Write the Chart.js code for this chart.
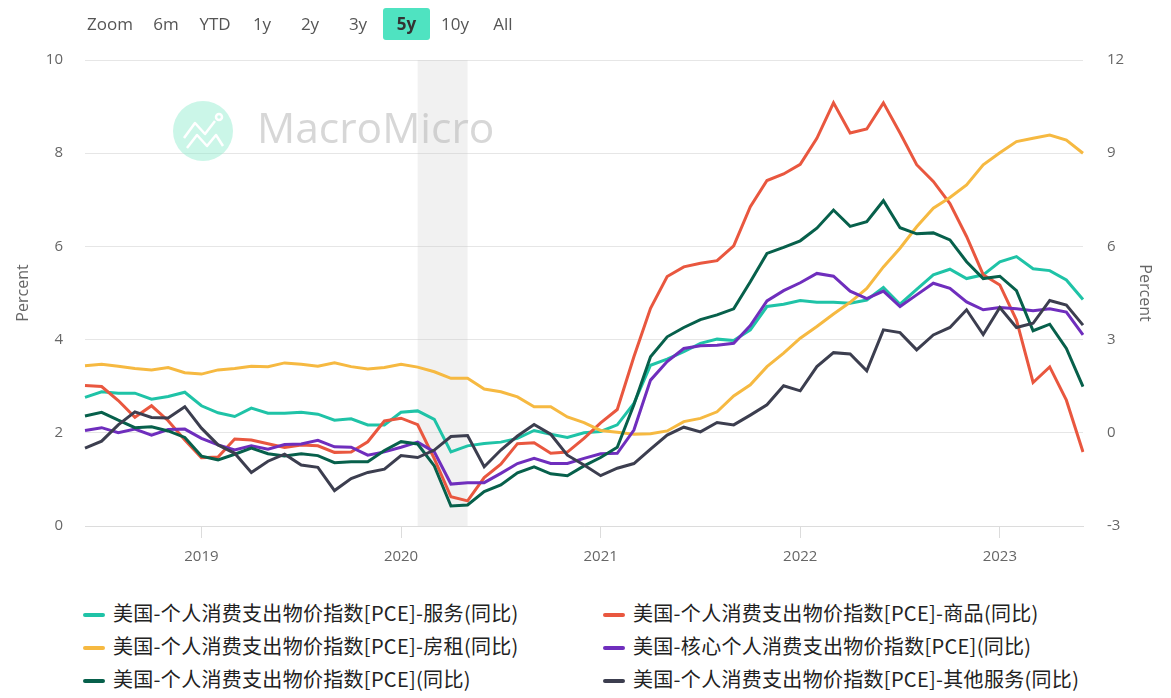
<!DOCTYPE html>
<html lang="zh">
<head>
<meta charset="UTF-8">
<title>美国PCE物价指数(同比)</title>
<script src="https://cdn.jsdelivr.net/npm/chart.js"></script>
<style>
    body {
        margin: 0;
        padding: 0;
        background: #fff;
        font-family: 'Open Sans', sans-serif;
    }
    .wrap {
        position: relative;
        width: 1171px;
        height: 698px;
        overflow: hidden;
    }
    .chart-box {
        position: absolute;
        left: 0;
        top: 0;
        width: 1171px;
        height: 590px;
    }
    .range-btn {
        position: absolute;
        top: 8px;
        height: 32px;
        line-height: 32px;
        font-size: 17px;
        color: #555;
        text-align: center;
    }
    .range-btn.active {
        background: #4fe3c1;
        border-radius: 3px;
        font-weight: bold;
        color: #333;
    }
    .legend {
        position: absolute;
        left: 0;
        top: 596px;
        width: 1171px;
    }
    .legend-item {
        position: absolute;
        height: 33px;
        line-height: 33px;
        font-family: 'Noto Sans CJK SC', sans-serif;
        font-size: 20px;
        letter-spacing: 0.3px;
        color: #222;
        white-space: nowrap;
    }
    .legend-item .sym {
        display: inline-block;
        width: 22px;
        height: 4px;
        border-radius: 2px;
        vertical-align: middle;
        margin-right: 8px;
        position: relative;
        top: -1px;
    }
</style>
</head>
<body>
<div class="wrap">
    <div class="chart-box"><canvas id="pce-chart"></canvas></div>
    <div class="range-btn" style="left:80px;width:60px;">Zoom</div>
    <div class="range-btn" style="left:148px;width:36px;">6m</div>
    <div class="range-btn" style="left:194px;width:42px;">YTD</div>
    <div class="range-btn" style="left:245px;width:34px;">1y</div>
    <div class="range-btn" style="left:293px;width:34px;">2y</div>
    <div class="range-btn" style="left:341px;width:34px;">3y</div>
    <div class="range-btn active" style="left:383px;width:47px;">5y</div>
    <div class="range-btn" style="left:436px;width:38px;">10y</div>
    <div class="range-btn" style="left:485px;width:36px;">All</div>
    <div class="legend" id="legend"></div>
</div>

<script>
    // месяцы: 2018-06 ... 2023-06
    const months = [
        '2018-06','2018-07','2018-08','2018-09','2018-10','2018-11','2018-12',
        '2019-01','2019-02','2019-03','2019-04','2019-05','2019-06','2019-07','2019-08','2019-09','2019-10','2019-11','2019-12',
        '2020-01','2020-02','2020-03','2020-04','2020-05','2020-06','2020-07','2020-08','2020-09','2020-10','2020-11','2020-12',
        '2021-01','2021-02','2021-03','2021-04','2021-05','2021-06','2021-07','2021-08','2021-09','2021-10','2021-11','2021-12',
        '2022-01','2022-02','2022-03','2022-04','2022-05','2022-06','2022-07','2022-08','2022-09','2022-10','2022-11','2022-12',
        '2023-01','2023-02','2023-03','2023-04','2023-05','2023-06'
    ];

    // левая ось
    const services = [2.76,2.88,2.85,2.85,2.72,2.78,2.87,2.58,2.43,2.35,2.53,2.42,2.42,2.44,2.40,2.27,
        2.30,2.17,2.17,2.44,2.47,2.29,1.59,1.72,1.77,1.80,1.88,2.05,1.97,1.90,2.00,2.03,
        2.17,2.63,3.45,3.58,3.74,3.92,4.01,3.98,4.21,4.71,4.76,4.84,4.80,4.80,4.78,
        4.85,5.12,4.76,5.08,5.39,5.51,5.31,5.39,5.67,5.78,5.52,5.48,5.28,4.86];
    const housing = [3.44,3.47,3.43,3.38,3.35,3.40,3.29,3.26,3.35,3.38,3.43,3.42,3.50,3.47,3.43,3.50,
        3.42,3.37,3.40,3.47,3.41,3.31,3.17,3.17,2.94,2.88,2.77,2.56,2.56,2.34,2.22,2.05,
        2.01,1.97,1.98,2.04,2.24,2.31,2.45,2.79,3.03,3.42,3.71,4.03,4.28,4.55,4.80,
        5.10,5.56,5.96,6.42,6.82,7.05,7.32,7.75,8.01,8.25,8.32,8.39,8.28,8.00];
    const pce = [2.36,2.44,2.27,2.11,2.13,2.04,1.90,1.50,1.42,1.54,1.67,1.55,1.50,1.55,1.51,1.36,
        1.38,1.38,1.62,1.81,1.76,1.29,0.43,0.45,0.74,0.88,1.14,1.27,1.12,1.08,1.29,1.47,
        1.69,2.60,3.63,4.06,4.26,4.43,4.53,4.66,5.24,5.85,5.98,6.12,6.39,6.78,6.43,
        6.53,6.98,6.40,6.27,6.29,6.14,5.67,5.31,5.36,5.05,4.19,4.33,3.81,2.99];
    const corePce = [2.05,2.11,2.00,2.08,1.95,2.07,2.08,1.88,1.74,1.63,1.72,1.65,1.75,1.76,1.84,1.70,
        1.69,1.52,1.59,1.69,1.80,1.59,0.90,0.93,0.93,1.13,1.34,1.45,1.34,1.34,1.45,1.55,
        1.56,2.06,3.13,3.53,3.81,3.87,3.88,3.92,4.30,4.83,5.05,5.22,5.42,5.36,5.04,
        4.88,5.04,4.71,4.96,5.21,5.10,4.81,4.64,4.69,4.66,4.62,4.66,4.59,4.10];
    const otherServices = [1.67,1.82,2.17,2.45,2.33,2.32,2.56,2.10,1.74,1.56,1.15,1.39,1.54,1.31,1.26,0.76,
        1.02,1.15,1.22,1.51,1.47,1.63,1.92,1.94,1.27,1.63,1.93,2.18,1.97,1.52,1.31,1.08,
        1.24,1.34,1.65,1.95,2.12,2.02,2.22,2.17,2.38,2.60,3.01,2.90,3.42,3.72,3.69,
        3.33,4.21,4.15,3.78,4.10,4.26,4.64,4.11,4.69,4.26,4.35,4.84,4.74,4.31];

    // правая ось
    const goods = [1.52,1.49,1.04,0.50,0.87,0.39,-0.23,-0.80,-0.78,-0.20,-0.23,-0.35,-0.47,-0.39,-0.42,-0.63,
        -0.62,-0.29,0.38,0.47,0.26,-0.83,-2.06,-2.19,-1.44,-1.01,-0.35,-0.32,-0.66,-0.62,-0.18,0.32,
        0.75,2.45,4.01,5.03,5.34,5.46,5.54,6.02,7.28,8.12,8.33,8.64,9.48,10.62,9.65,
        9.78,10.62,9.65,8.63,8.09,7.38,6.32,5.09,4.76,3.63,1.62,2.12,1.05,-0.62];

    // рецессия
    const recessionStart = '2020-02';
    const recessionEnd = '2020-05';

    const series = [
        { name: '美国-个人消费支出物价指数[PCE]-服务(同比)', data: services, color: '#1fc3a7', axis: 'yLeft' },
        { name: '美国-个人消费支出物价指数[PCE]-商品(同比)', data: goods, color: '#e9573f', axis: 'yRight' },
        { name: '美国-个人消费支出物价指数[PCE]-房租(同比)', data: housing, color: '#f6b941', axis: 'yLeft' },
        { name: '美国-核心个人消费支出物价指数[PCE](同比)', data: corePce, color: '#6f2ebd', axis: 'yLeft' },
        { name: '美国-个人消费支出物价指数[PCE](同比)', data: pce, color: '#07604b', axis: 'yLeft' },
        { name: '美国-个人消费支出物价指数[PCE]-其他服务(同比)', data: otherServices, color: '#3c3e4f', axis: 'yLeft' }
    ];

    // легенда
    const legendPos = [[83, 0], [603, 0], [83, 33], [603, 33], [83, 66], [603, 66]];
    const legend = document.getElementById('legend');
    series.forEach(function(s, i) {
        const item = document.createElement('div');
        item.className = 'legend-item';
        item.style.left = legendPos[i][0] + 'px';
        item.style.top = legendPos[i][1] + 'px';
        item.innerHTML = '<span class="sym" style="background:' + s.color + '"></span>' + s.name;
        legend.appendChild(item);
    });

    const backdropPlugin = {
        id: 'backdrop',
        beforeDatasetsDraw(chart) {
            const ctx = chart.ctx;
            const area = chart.chartArea;
            const x = chart.scales.x;
            const x1 = x.getPixelForValue(months.indexOf(recessionStart));
            const x2 = x.getPixelForValue(months.indexOf(recessionEnd));
            ctx.save();
            ctx.fillStyle = 'rgba(200,200,200,0.25)';
            ctx.fillRect(x1, area.top, x2 - x1, area.bottom - area.top);

            // водяной знак
            ctx.fillStyle = 'rgba(140,235,205,0.45)';
            ctx.beginPath();
            ctx.arc(203, 131, 30, 0, Math.PI * 2);
            ctx.fill();
            ctx.strokeStyle = '#fff';
            ctx.lineWidth = 2.5;
            ctx.lineJoin = 'round';
            ctx.beginPath();
            ctx.moveTo(184, 138); ctx.lineTo(195, 123); ctx.lineTo(205, 134); ctx.lineTo(215, 121);
            ctx.stroke();
            ctx.beginPath();
            ctx.arc(219, 117, 3, 0, Math.PI * 2);
            ctx.stroke();
            ctx.beginPath();
            ctx.moveTo(187, 148); ctx.lineTo(197, 135); ctx.lineTo(207, 146); ctx.lineTo(216, 135); ctx.lineTo(223, 146);
            ctx.stroke();
            ctx.fillStyle = 'rgba(175,175,175,0.5)';
            ctx.font = '42.5px "Open Sans"';
            ctx.textBaseline = 'middle';
            ctx.fillText('MacroMicro', 257, 131);
            ctx.restore();
        }
    };

    const tickFont = { family: 'Open Sans', size: 15 };
    const titleFont = { family: 'Open Sans', size: 16 };

    new Chart(document.getElementById('pce-chart'), {
        type: 'line',
        data: {
            labels: months,
            datasets: series.map(function(s, i) {
                return {
                    label: s.name,
                    data: s.data,
                    borderColor: s.color,
                    backgroundColor: s.color,
                    borderWidth: 3,
                    pointRadius: 0,
                    tension: 0,
                    yAxisID: s.axis,
                    order: series.length - i
                };
            })
        },
        options: {
            responsive: true,
            maintainAspectRatio: false,
            animation: false,
            layout: { padding: { top: 60, left: 0, right: 0, bottom: 0 } },
            plugins: {
                legend: { display: false },
                tooltip: { enabled: false }
            },
            scales: {
                x: {
                    type: 'category',
                    offset: false,
                    afterBuildTicks: function(scale) {
                        scale.ticks = scale.ticks.filter(t => months[t.value].endsWith('-01'));
                    },
                    afterFit: function(scale) { scale.height = 64; },
                    ticks: {
                        autoSkip: false,
                        maxRotation: 0,
                        padding: 10,
                        color: '#666',
                        font: tickFont,
                        callback: function(value) { return months[value].slice(0, 4); }
                    },
                    grid: {
                        drawOnChartArea: false,
                        drawTicks: true,
                        tickLength: 12,
                        color: '#dcdcdc'
                    },
                    border: { display: true, color: '#dcdcdc' }
                },
                yLeft: {
                    position: 'left',
                    min: 0,
                    max: 10,
                    afterFit: function(scale) { scale.width = 85; },
                    ticks: { stepSize: 2, padding: 22, color: '#666', font: tickFont },
                    grid: { color: '#e6e6e6', drawTicks: false },
                    border: { display: false },
                    title: { display: true, text: 'Percent', color: '#666', font: titleFont, padding: { top: 14 } }
                },
                yRight: {
                    position: 'right',
                    min: -3,
                    max: 12,
                    afterFit: function(scale) { scale.width = 88; },
                    ticks: { stepSize: 3, padding: 24, color: '#666', font: tickFont },
                    grid: { drawOnChartArea: false, drawTicks: false },
                    border: { display: false },
                    title: { display: true, text: 'Percent', color: '#666', font: titleFont, padding: { top: 17 } }
                }
            }
        },
        plugins: [backdropPlugin]
    });
</script>
</body>
</html>
